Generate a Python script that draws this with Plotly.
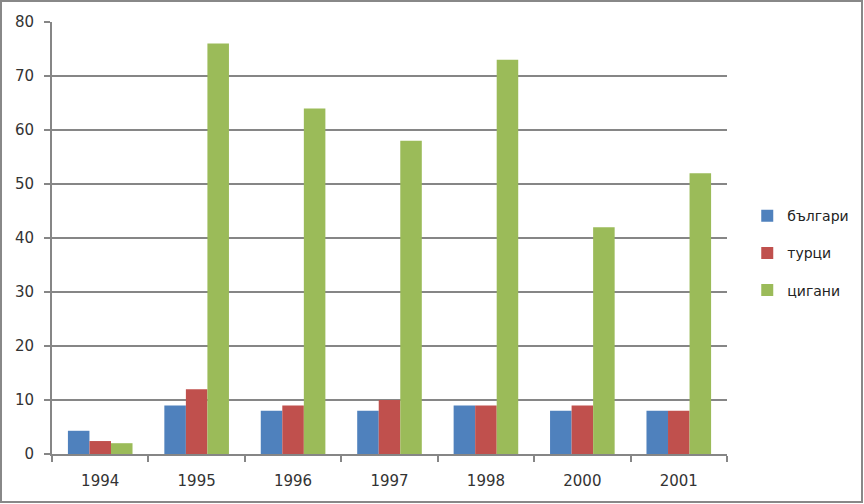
import plotly.graph_objects as go

years = ["1994", "1995", "1996", "1997", "1998", "2000", "2001"]
bulgarians = [4.3, 9, 8, 8, 9, 8, 8]
turks = [2.4, 12, 9, 10, 9, 9, 8]
roma = [2.0, 76, 64, 58, 73, 42, 52]

names = ["българи", "турци", "цигани"]
colors = ["#4F81BD", "#C0504D", "#9BBB59"]
series = [bulgarians, turks, roma]

W, H = 864, 504
ml, mr, mt, mb = 52, 137, 22, 50
pw, ph = W - ml - mr, H - mt - mb

fig = go.Figure()
for i, (n, c, v) in enumerate(zip(names, colors, series)):
    fig.add_trace(go.Bar(x=years, y=v, name=n, marker=dict(color=c, line=dict(width=0)),
                         legendgroup=str(i)))

fig.update_layout(
    width=W, height=H,
    margin=dict(l=ml, r=mr, t=mt, b=mb, autoexpand=False),
    paper_bgcolor="white", plot_bgcolor="white",
    barmode="group", bargap=0.33, bargroupgap=0,
    font=dict(family="DejaVu Sans", size=15, color="#333333"),
    legend=dict(x=1.030, y=0.465, xanchor="left", yanchor="middle",
                bgcolor="rgba(0,0,0,0)",
                tracegroupgap=16, font=dict(size=14, color="#222222")),
    showlegend=True,
)
fig.update_xaxes(type="category", showline=True, linecolor="#868686", linewidth=2,
                 ticks="outside", tickson="boundaries", ticklen=6, tickcolor="#868686",
                 tickwidth=2, showgrid=False, tickfont=dict(size=15), automargin=False,
                 ticklabelstandoff=12)
fig.update_yaxes(range=[0, 80], dtick=10, showline=True, linecolor="#868686", linewidth=2,
                 ticks="outside", ticklen=6, tickcolor="#868686", tickwidth=2,
                 showgrid=True, gridcolor="#868686", gridwidth=2, zeroline=False,
                 tickfont=dict(size=15), automargin=False, ticklabelstandoff=7)

fig.add_shape(type="rect", xref="paper", yref="paper",
              x0=-(ml - 1) / pw, x1=(W - ml - 2) / pw,
              y0=-(mb - 2) / ph, y1=1 + (mt - 1) / ph,
              line=dict(color="#888888", width=2), fillcolor="rgba(0,0,0,0)", layer="above")

fig.write_html("out.html")
